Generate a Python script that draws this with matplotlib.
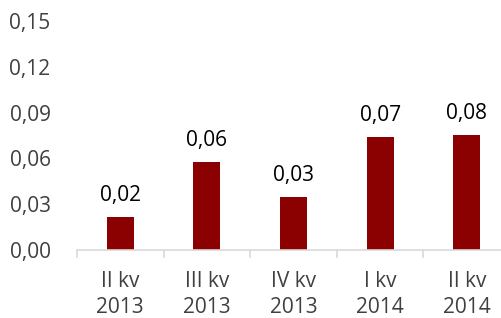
import numpy as np
import matplotlib.pyplot as plt

categories = ["II kv\n2013", "III kv\n2013", "IV kv\n2013", "I kv\n2014", "II kv\n2014"]
values = [0.0216, 0.0574, 0.0345, 0.0740, 0.0755]
yticks = [0.00, 0.03, 0.06, 0.09, 0.12, 0.15]

bar_color = "#8b0000"
text_gray = "#404040"

plt.rcParams["font.family"] = ["Open Sans", "DejaVu Sans"]

fig = plt.figure(figsize=(5.01, 3.18), dpi=100)
ax = fig.add_axes([0.1537, 0.2138, 0.8643, 0.7201])

x = np.arange(len(categories))
ax.bar(x, values, width=0.31, color=bar_color)

for xi, v in zip(x, values):
    ax.annotate(f"{v:.2f}".replace(".", ","), xy=(xi, v), xytext=(0, 8),
                textcoords="offset points", ha="center", va="bottom",
                fontsize=15, color="black")

ax.set_xlim(-0.5, len(categories) - 0.5)
ax.set_ylim(0, 0.15)
ax.set_yticks(yticks)
ax.set_yticklabels([f"{t:.2f}".replace(".", ",") for t in yticks])

ax.set_xticks(x)
ax.set_xticklabels(categories, linespacing=1.3)
ax.set_xticks(np.arange(len(categories) + 1) - 0.5, minor=True)

ax.tick_params(axis="x", which="major", length=0, pad=15, labelsize=15, labelcolor=text_gray)
ax.tick_params(axis="x", which="minor", length=6, color="#d9d9d9", width=1.2)
ax.tick_params(axis="y", length=0, pad=19, labelsize=15, labelcolor=text_gray)

for s in ["top", "right", "left"]:
    ax.spines[s].set_visible(False)
ax.spines["bottom"].set_color("#d9d9d9")
ax.spines["bottom"].set_linewidth(1.2)

fig.savefig("out.png", dpi=100)
